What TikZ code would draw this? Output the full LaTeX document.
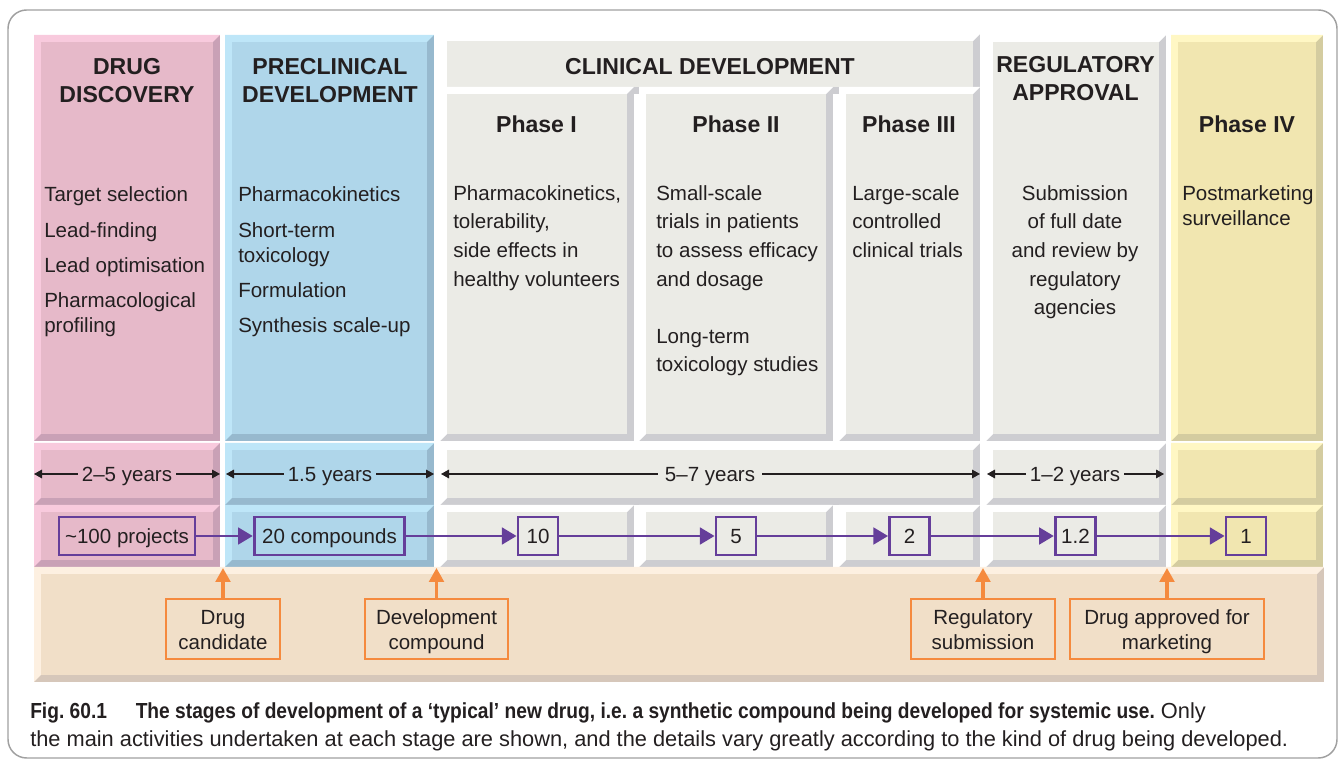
\documentclass[tikz,border=0pt]{standalone}
\usepackage{fontspec}
\usepackage{graphicx}
\setmainfont{Liberation Sans}
\usetikzlibrary{arrows.meta}
\frenchspacing
\definecolor{txt}{HTML}{231F20}
\definecolor{framec}{HTML}{A0A0A0}
\definecolor{purp}{HTML}{653E9A}
\definecolor{orng}{HTML}{F58A3E}
\definecolor{pkface}{HTML}{E6B9C9}
\definecolor{pklight}{HTML}{F8CADD}
\definecolor{pkdark}{HTML}{C9A1B6}
\definecolor{blface}{HTML}{AFD6EA}
\definecolor{bllight}{HTML}{BEE6F8}
\definecolor{bldark}{HTML}{97B9CE}
\definecolor{gyface}{HTML}{EBEBE6}
\definecolor{gylight}{HTML}{FFFFFF}
\definecolor{gydark}{HTML}{CDCDD1}
\definecolor{ywface}{HTML}{F1E6B0}
\definecolor{ywlight}{HTML}{FFF7C4}
\definecolor{ywdark}{HTML}{D4CCA0}
\definecolor{tnface}{HTML}{F1DFC8}
\definecolor{tnlight}{HTML}{FDF0E1}
\definecolor{tndark}{HTML}{D6C7BA}
\newcommand\bvl[5]{%
  \fill[#5dark] (#1,#2) rectangle (#3,#4);
  \fill[#5light] (#1,#2) -- (#3,#2) -- ({#3-7},{#2+7}) -- ({#1+7},{#2+7}) -- ({#1+7},{#4-7}) -- (#1,#4) -- cycle;
  \fill[#5face] ({#1+7},{#2+7}) rectangle ({#3-7},{#4-7});
}
\newcommand\bodyfnt{\fontsize{15.4pt}{18.75pt}\selectfont}
\newcommand\headfnt{\fontsize{17.3pt}{21pt}\selectfont\bfseries}
\newcommand\capfnt{\fontsize{16.35pt}{19pt}\selectfont}
\newcommand\topl{\rule{0pt}{15pt}}
\newcommand\botl{\vphantom{p}}
\begin{document}
\begin{tikzpicture}[x=0.75pt,y=-0.75pt,
  every node/.style={text=txt},
  body/.style={font=\bodyfnt, inner sep=0pt, anchor=base west},
  bodyc/.style={font=\bodyfnt, inner sep=0pt, anchor=base},
  head/.style={font=\headfnt, inner sep=0pt, anchor=base},
  capt/.style={font=\capfnt, inner sep=0pt, anchor=base west},
  yrs/.style={font=\bodyfnt, inner xsep=3pt, inner ysep=0pt, anchor=base},
  yarr/.style={draw=txt, line width=0.8pt, -{Triangle[length=6pt,width=6.5pt]}},
  pbox/.style={draw=purp, line width=2.1pt, font=\bodyfnt, minimum height=28.5pt, minimum width=30pt, inner xsep=4.5pt, inner ysep=0pt, text height=11.2pt, text depth=0pt},
  parr/.style={draw=purp, line width=2.1pt, -{Triangle[length=11pt,width=12.5pt]}, fill=purp},
  obox/.style={draw=orng, line width=2pt, font=\bodyfnt, align=center, minimum height=45pt, inner sep=0pt},
  oarr/.style={draw=orng, line width=2.5pt, -{Triangle[length=10.5pt,width=11pt]}, fill=orng}
]
\useasboundingbox (0,0) rectangle (1340,762);
\draw[framec, line width=1.1pt, rounded corners=14pt] (8,10) rectangle (1337,758);

% top panels
\bvl{34}{35}{220}{441}{pk}
\bvl{225}{35}{434}{441}{bl}
\bvl{440}{34}{980}{94}{gy}
\bvl{440}{87}{634}{441}{gy}
\bvl{639}{87}{833}{441}{gy}
\bvl{839}{87}{980}{441}{gy}
\bvl{986}{35}{1166}{441}{gy}
\bvl{1171}{35}{1323}{441}{yw}
% years row
\bvl{34}{443}{220}{505}{pk}
\bvl{225}{443}{434}{505}{bl}
\bvl{440}{443}{980}{505}{gy}
\bvl{986}{443}{1166}{505}{gy}
\bvl{1171}{443}{1323}{505}{yw}
% numbers row
\bvl{34}{505}{220}{567}{pk}
\bvl{225}{505}{434}{567}{bl}
\bvl{440}{505}{634}{567}{gy}
\bvl{639}{505}{833}{567}{gy}
\bvl{839}{505}{980}{567}{gy}
\bvl{986}{505}{1166}{567}{gy}
\bvl{1171}{505}{1323}{567}{yw}
% bottom band
\bvl{34}{567}{1324}{682}{tn}

% headers
\node[head] (hdd1) at (127,75) {DRUG};
\node[head] (hdd2) at (127,103) {DISCOVERY};
\node[head] (hpc1) at (330,75) {PRECLINICAL};
\node[head] (hpc2) at (330,103) {DEVELOPMENT};
\node[head] (hcl) at (710,75) {CLINICAL DEVELOPMENT};
\node[head] (hra1) at (1075.5,73) {REGULATORY};
\node[head] (hra2) at (1075.5,101) {APPROVAL};
\node[head] (hp1) at (536.5,133) {Phase I};
\node[head] (hp2) at (736,133) {Phase II};
\node[head] (hp3) at (909,133) {Phase III};
\node[head] (hp4) at (1247,133) {Phase IV};

% body text
\foreach \t/\yy [count=\i] in {Target selection/201.5, Lead-finding/237.5, Lead optimisation/272.5, Pharmacological/307.5, profiling/332.5}
  \node[body] (dd\i) at (44,\yy) {\t};
\foreach \t/\yy [count=\i] in {Pharmacokinetics/201.5, Short-term/237.5, toxicology/262.5, Formulation/297.5, Synthesis scale-up/332.5}
  \node[body] (pc\i) at (238,\yy) {\t};
\foreach \t/\yy [count=\i] in {{Pharmacokinetics,}/200.5, {tolerability,}/228.5, side effects in/257.5, healthy volunteers/286.5}
  \node[body] (pa\i) at (453,\yy) {\t};
\foreach \t/\yy [count=\i] in {Small-scale/200.5, trials in patients/228.5, to assess efficacy/257.5, and dosage/286.5, Long-term/343.5, toxicology studies/371.5}
  \node[body] (pb\i) at (656,\yy) {\t};
\foreach \t/\yy [count=\i] in {Large-scale/200.5, controlled/228.5, clinical trials/257.5}
  \node[body] (pd\i) at (852,\yy) {\t};
\foreach \t/\yy [count=\i] in {Submission/200.5, of full date/228.5, and review by/257.5, regulatory/286.5, agencies/314.5}
  \node[bodyc] (ra\i) at (1075,\yy) {\t};
\foreach \t/\yy [count=\i] in {Postmarketing/200.5, surveillance/225.5}
  \node[body] (pe\i) at (1182,\yy) {\t};

% years
\coordinate (ya1) at (34,474);  \coordinate (yb1) at (220,474);
\coordinate (ya2) at (226,474); \coordinate (yb2) at (434,474);
\coordinate (ya3) at (441,474); \coordinate (yb3) at (980,474);
\coordinate (ya4) at (987,474); \coordinate (yb4) at (1164,474);
\node[yrs] (y1) at (127,481.5) {2–5 years};
\node[yrs] (y2) at (330,481.5) {1.5 years};
\node[yrs, inner xsep=5pt] (y3) at (710,481.5) {5–7 years};
\node[yrs] (y4) at (1075,481.5) {1–2 years};
\foreach \i in {1,2,3,4}{
  \draw[yarr] (y\i.west |- ya\i) -- (ya\i);
  \draw[yarr] (y\i.east |- yb\i) -- (yb\i);
}

% numbers
\node[pbox] (n100) at (127,536) {\textasciitilde100 projects};
\node[pbox, inner xsep=6pt] (n20) at (329.5,536) {20 compounds};
\node[pbox] (n10) at (538,536) {10};
\node[pbox] (n5) at (736,536) {5};
\node[pbox] (n2) at (909.5,536) {2};
\node[pbox] (n12) at (1075.5,536) {1.2};
\node[pbox] (n1) at (1246,536) {1};
\draw[parr] (n100) -- (n20);
\draw[parr] (n20) -- (n10);
\draw[parr] (n10) -- (n5);
\draw[parr] (n5) -- (n2);
\draw[parr] (n2) -- (n12);
\draw[parr] (n12) -- (n1);

% milestones
\node[obox, minimum width=85.5pt] (dc) at (223,629) {\topl Drug\\candidate\botl};
\node[obox, minimum width=107.25pt] (dv) at (436.5,629) {\topl Development\\compound\botl};
\node[obox, minimum width=108pt] (rs) at (983,629) {\topl Regulatory\\submission\botl};
\node[obox, minimum width=145.5pt] (da) at (1167,629) {\topl Drug approved for\\marketing\botl};
\coordinate (tdc) at (223,568);
\coordinate (tdv) at (436.5,568);
\coordinate (trs) at (983,568);
\coordinate (tda) at (1167,568);
\draw[oarr] (dc.north) -- (tdc);
\draw[oarr] (dv.north) -- (tdv);
\draw[oarr] (rs.north) -- (trs);
\draw[oarr] (da.north) -- (tda);

% caption
\node[capt] (cap1) at (30,719) {\scalebox{0.88}[1]{\textbf{Fig. 60.1\hspace{24.5pt}The stages of development of a ‘typical’ new drug, i.e. a synthetic compound being developed for systemic use.}} Only};
\node[capt] (cap2) at (30,747) {the main activities undertaken at each stage are shown, and the details vary greatly according to the kind of drug being developed.};
\end{tikzpicture}
\end{document}
